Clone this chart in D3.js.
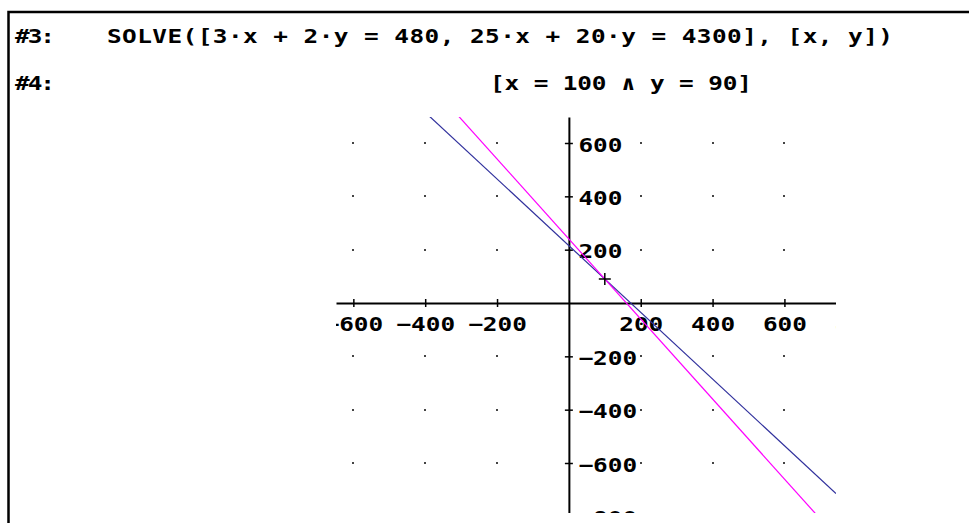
<!DOCTYPE html>
<html>
<head>
<meta charset="utf-8">
<script src="https://cdn.jsdelivr.net/npm/d3@7"></script>
<style>
  body { margin: 0; background: #fff; }
  svg { display: block; }
  text { font-family: "DejaVu Sans Mono", "Liberation Mono", monospace; font-weight: bold; }
</style>
</head>
<body>
<svg id="drawing_region"></svg>
<script>
const width = 969;
const height = 523;

// expressions shown above the plot
const lineLabels = ["#3:", "#4:"];
const lineTexts = [
    "SOLVE([3·x + 2·y = 480, 25·x + 20·y = 4300], [x, y])",
    "[x = 100 ∧ y = 90]"
];

// equations a·x + b·y = c
const eqA = [3, 25];
const eqB = [2, 20];
const eqC = [480, 4300];
const solution = [100, 90];

const xTicks = [-800, -600, -400, -200, 200, 400, 600, 800];
const yTicks = [-800, -600, -400, -200, 200, 400, 600, 800];
const gridX = [-600, -400, -200, 200, 400, 600];
const gridY = [-600, -400, -200, 200, 400, 600];

const lineColors = ["#ff00ff", "#30309c"];

const plot = { left: 336, right: 836, top: 117, bottom: 513 };
const stretch = 1.22; // the screen font is wider than DejaVu

const svg = d3.select('#drawing_region')
    .attr('width', width)
    .attr('height', height);

// frame of the window
svg.append("path")
    .attr("d", `M${width},12H8.5V${height}`)
    .attr("fill", "none")
    .attr("stroke", "#000")
    .attr("stroke-width", 2.5);

// text rows
const rowY = [43, 90];
svg.selectAll("text.num")
    .data(lineLabels)
    .join("text")
    .attr("class", "num")
    .attr("transform", (d, i) => `translate(15,${rowY[i]}) scale(${stretch},1)`)
    .attr("font-size", "20px")
    .attr("textLength", 40 / stretch)
    .attr("lengthAdjust", "spacing")
    .text(d => d);

const rowX = [107, 490];
const rowLen = [786, 262];
svg.selectAll("text.expr")
    .data(lineTexts)
    .join("text")
    .attr("class", "expr")
    .attr("transform", (d, i) => `translate(${rowX[i]},${rowY[i]}) scale(${stretch},1)`)
    .attr("font-size", "20px")
    .attr("textLength", (d, i) => rowLen[i] / stretch)
    .attr("lengthAdjust", "spacing")
    .text(d => d);

const xscale = d3.scaleLinear()
    .domain([-648.3, 743.6])
    .range([plot.left, plot.right]);

const yscale = d3.scaleLinear()
    .domain([-787.5, 697.5])
    .range([plot.bottom, plot.top]);

svg.append("clipPath")
    .attr("id", "clip")
    .append("rect")
    .attr("x", plot.left)
    .attr("y", plot.top)
    .attr("width", plot.right - plot.left)
    .attr("height", plot.bottom - plot.top);

const g = svg.append("g").attr("clip-path", "url(#clip)");

// grid dots
const dots = [];
gridX.forEach(gx => gridY.forEach(gy => dots.push([gx, gy])));
g.selectAll("rect.dot")
    .data(dots)
    .join("rect")
    .attr("class", "dot")
    .attr("x", d => Math.round(xscale(d[0])) - 1)
    .attr("y", d => Math.round(yscale(d[1])) - 1)
    .attr("width", 2)
    .attr("height", 2)
    .attr("fill", "#444");

const fmt = d => (d < 0 ? "\u2212" : "") + Math.abs(d);

// x axis
const xAxis = g.append("g")
    .attr("transform", `translate(0,${yscale(0)})`)
    .call(d3.axisBottom(xscale)
        .tickValues(xTicks)
        .tickSize(4)
        .tickSizeOuter(0)
        .tickPadding(10)
        .tickFormat(fmt));

// y axis
const yAxis = g.append("g")
    .attr("transform", `translate(${xscale(0)},0)`)
    .call(d3.axisRight(yscale)
        .tickValues(yTicks)
        .tickSize(4)
        .tickSizeOuter(0)
        .tickPadding(3.8)
        .tickFormat(fmt));

xAxis.selectAll(".tick line").attr("y1", -4).attr("y2", 4);
yAxis.selectAll(".tick line").attr("x1", -4).attr("x2", 4);
yAxis.selectAll(".tick text").attr("dy", "0.4em");

[xAxis, yAxis].forEach(a => {
    a.select(".domain").attr("stroke", "#000").attr("stroke-width", 2);
    a.selectAll(".tick line").attr("stroke", "#000").attr("stroke-width", 1.5);
    a.selectAll(".tick text")
        .attr("fill", "#000")
        .attr("font-size", "20px")
        .attr("font-family", "DejaVu Sans Mono")
        .attr("transform", `scale(${stretch},1)`);
});

// equation lines, drawn blue first then magenta
const line = d3.line()
    .x(d => xscale(d[0]))
    .y(d => yscale(d[1]));

[1, 0].forEach(i => {
    const pts = xscale.domain().map(xv => [xv, (eqC[i] - eqA[i] * xv) / eqB[i]]);
    g.append("path")
        .datum(pts)
        .attr("d", line)
        .attr("fill", "none")
        .attr("stroke", lineColors[i])
        .attr("stroke-width", 1.2);
});

// solution marker
const sx = xscale(solution[0]);
const sy = yscale(solution[1]);
g.append("path")
    .attr("d", `M${sx - 6},${sy}H${sx + 6}M${sx},${sy - 6}V${sy + 6}`)
    .attr("stroke", "#000")
    .attr("stroke-width", 1.5);
</script>
</body>
</html>
